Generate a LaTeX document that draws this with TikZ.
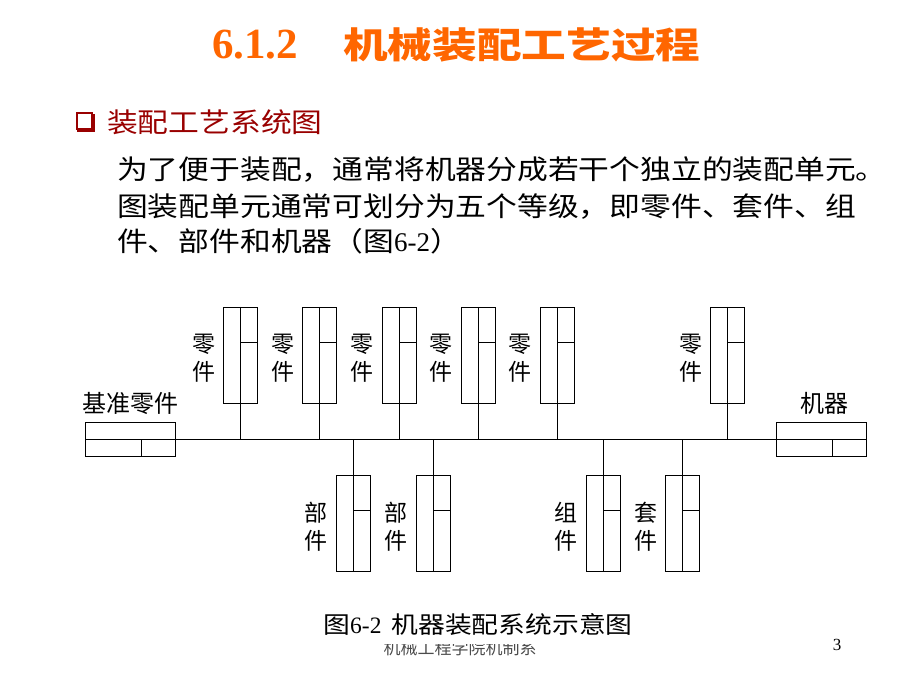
\documentclass[tikz,border=0pt]{standalone}
\usepackage{fontspec}
\setmainfont{Liberation Serif}
\newfontfamily\hei{Noto Sans CJK SC}
\newfontfamily\heiw[FakeStretch=1.14]{Noto Sans CJK SC}
\newfontfamily\heit[FakeStretch=1.24]{Noto Sans CJK SC}
\usetikzlibrary{positioning}
\definecolor{titleorange}{RGB}{255,102,0}
\definecolor{bulletred}{RGB}{153,0,0}

\tikzset{
  part/.style={draw, line width=1pt, minimum width=34pt, minimum height=96pt, inner sep=0pt},
  endbox/.style={draw, line width=1pt, minimum width=90pt, minimum height=34.4pt, inner sep=0pt},
  lbl/.style={font=\fontsize{23}{28}\selectfont\hei, align=center, inner sep=0pt},
  body/.style={font=\fontsize{27}{32}\selectfont\heiw, anchor=west, inner sep=0pt}
}
% lines inside one part box
\newcommand\partlines[1]{
  \draw[line width=1pt] (#1.north) -- (#1.south);
  \draw[line width=1pt] ([yshift=-36pt]#1.north) -- ([yshift=-36pt]#1.north east);
}

\begin{document}
\begin{tikzpicture}[x=1pt,y=-1pt]
  \useasboundingbox (0,0) rectangle (920,690);
  \node (title) at (212,45) [anchor=west, inner sep=0pt, text=titleorange]
       {\fontsize{43}{48}\selectfont\bfseries 6.1.2\hspace{45pt}{\fontsize{36}{48}\selectfont\heit 机械装配工艺过程}};
  \node (bullet) at (84,121) [draw=bulletred, line width=2pt, minimum size=15pt, inner sep=0pt] {};
  \draw[bulletred, line width=2.2pt] ([xshift=1.5pt,yshift=-1.8pt]bullet.north east) -- ([xshift=1.5pt,yshift=-1.5pt]bullet.south east)
       -- ([xshift=1.8pt,yshift=-1.5pt]bullet.south west);
  \node (head) at (107,122) [body, text=bulletred] {装配工艺系统图};
  \node (line1) at (117,170) [body] {为了便于装配，通常将机器分成若干个独立的装配单元。};
  \node (line2) at (117,207) [body] {图装配单元通常可划分为五个等级，即零件、套件、组};
  \node (line3) at (117,241) [body] {件、部件和机器（图{\rmfamily 6-2}）};

  % base part and machine
  \node (base) at (130.7,439.5) [endbox] {};
  \node (mach) at (821.3,439.5) [endbox] {};
  \draw[line width=1pt] (base.west) -- (base.east);
  \draw[line width=1pt] (base.center -| 141.7,0) -- (base.south -| 141.7,0);
  \draw[line width=1pt] (mach.west) -- (mach.east);
  \draw[line width=1pt] (mach.center -| 832.3,0) -- (mach.south -| 832.3,0);
  \node (basetxt) [lbl, above=7pt of base, font=\fontsize{24}{28}\selectfont\hei] {基准零件};
  \node (machtxt) [lbl, above=7pt of mach, xshift=3pt, font=\fontsize{24}{28}\selectfont\hei] {机器};
  \coordinate (bus) at (base.east);
  \draw[line width=1pt] (base.east) -- (mach.west);

  % parts above the line
  \foreach \x [count=\i] in {240.7,319.7,399,478,557.5,727.7} {
    \node (up\i) at (\x,355.3) [part] {};
    \partlines{up\i}
    \node (upl\i) [lbl, left=8pt of up\i, yshift=-3pt] {零\\件};
    \draw[line width=1pt] (up\i.south) -- (up\i.south |- bus);
  }
  % units below the line
  \foreach \x/\t [count=\i] in {353.3/部,433.3/部,603.3/组,682.7/套} {
    \node (lo\i) at (\x,523.3) [part] {};
    \partlines{lo\i}
    \node (lol\i) [lbl, left=8pt of lo\i, yshift=-3pt] {\t\\件};
    \draw[line width=1pt] (lo\i.north |- bus) -- (lo\i.north);
  }

  \node (caption) at (478,625) [inner sep=0pt]
       {\fontsize{23.5}{28}\selectfont{\heiw 图}6-2\hspace{10pt}{\heiw 机器装配系统示意图}};
  \begin{scope}
    \clip (300,644) rectangle (620,662);
    \node (footer) at (460,648) [inner sep=0pt, text=black!70]
         {\fontsize{17}{20}\selectfont\hei 机械工程学院机制系};
  \end{scope}
  \node (page) at (837,645) [inner sep=0pt] {\fontsize{17}{20}\selectfont 3};
\end{tikzpicture}
\end{document}
